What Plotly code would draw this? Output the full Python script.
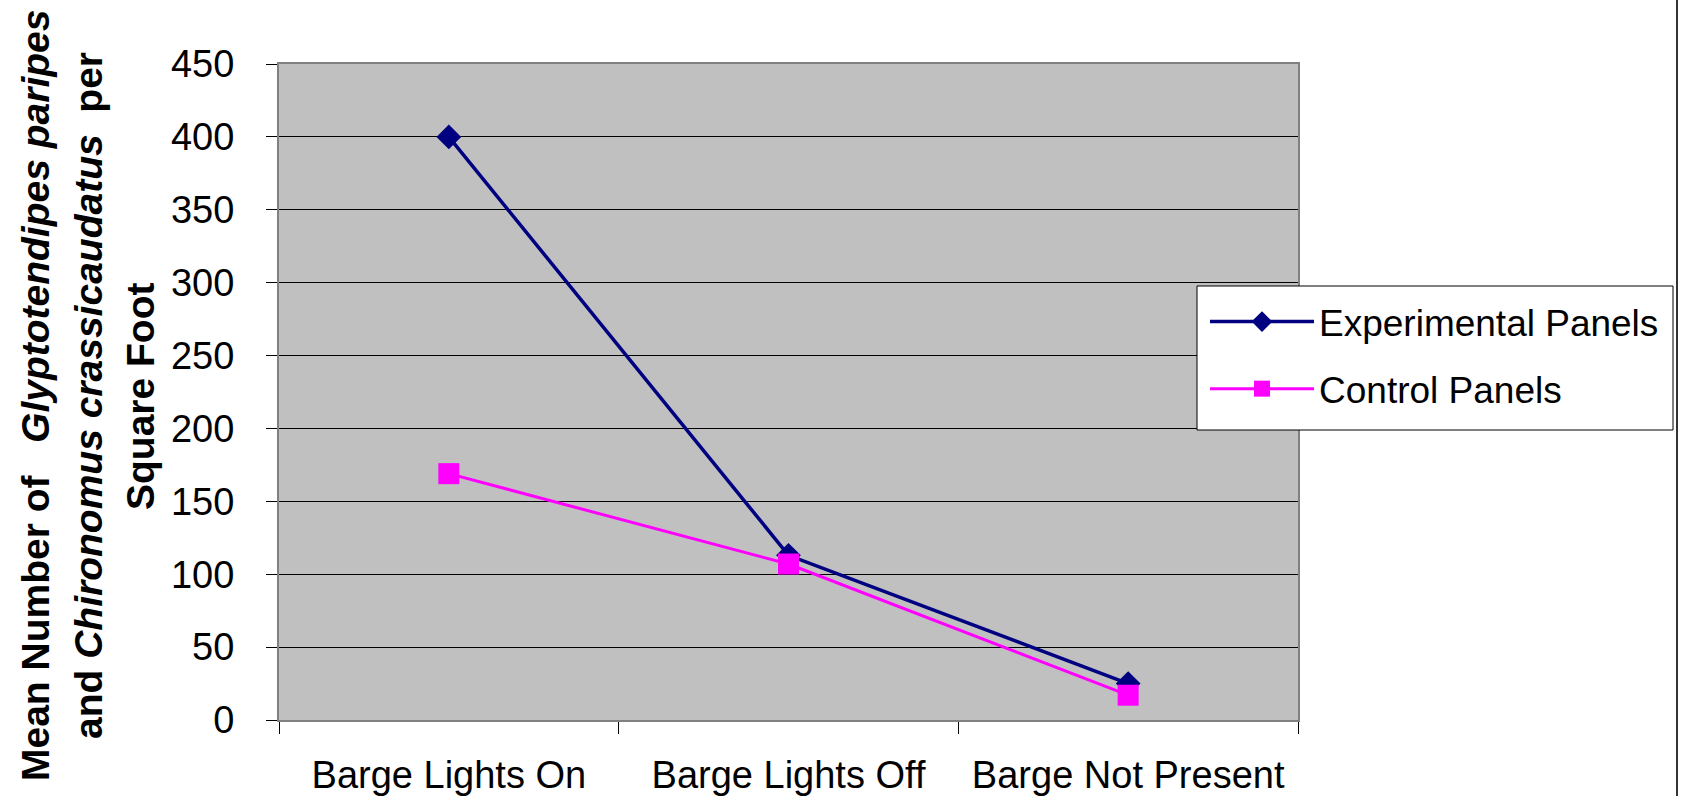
import plotly.graph_objects as go

categories = ["Barge Lights On", "Barge Lights Off", "Barge Not Present"]
experimental = [400, 113, 25]
control = [169, 107, 17]
y_ticks = [0, 50, 100, 150, 200, 250, 300, 350, 400, 450]

W, H = 1682, 796
L, R, T, B = 279, 1298, 64, 720
pw, ph = R - L, B - T

def px(x):
    return (x - L) / pw

def py(y):
    return (B - y) / ph

FONT = "Liberation Sans, Arial, sans-serif"

fig = go.Figure()
fig.add_trace(go.Scatter(
    x=categories, y=experimental, name="Experimental Panels",
    mode="lines+markers", legendgroup="a",
    line=dict(color="#000080", width=3.5),
    marker=dict(symbol="diamond", size=19, color="#000080"),
))
fig.add_trace(go.Scatter(
    x=categories, y=control, name="Control Panels",
    mode="lines+markers", legendgroup="b",
    line=dict(color="#FF00FF", width=3),
    marker=dict(symbol="square", size=21, color="#FF00FF"),
))

nb = "\u00a0"
title_lines = [
    f"<b>Mean Number of{nb*3}<i>Glyptotendipes paripes</i></b>",
    f"<b>and <i>Chironomus crassicaudatus</i>{nb*2}per</b>",
    "<b>Square Foot</b>",
]
title_x = [35, 88, 140]
for t, x in zip(title_lines, title_x):
    fig.add_annotation(
        text=t, xref="paper", yref="paper", x=px(x), y=py(396),
        xanchor="center", yanchor="middle", textangle=-90, showarrow=False,
        font=dict(family=FONT, size=39, color="black"),
    )

# outer chart border (right edge)
fig.add_shape(type="line", xref="paper", yref="paper",
              x0=px(1677), x1=px(1677), y0=py(0), y1=py(796),
              line=dict(color="#333333", width=2))
# legend box
fig.add_shape(type="rect", xref="paper", yref="paper",
              x0=px(1197), x1=px(1673), y0=py(286), y1=py(430),
              line=dict(color="black", width=1), fillcolor="white", layer="above")

fig.update_layout(
    width=W, height=H,
    margin=dict(l=L, r=W - R, t=T, b=H - B, pad=0, autoexpand=False),
    paper_bgcolor="white", plot_bgcolor="#C0C0C0",
    font=dict(family=FONT, size=38, color="black"),
    showlegend=True,
    legend=dict(
        x=px(1205), y=py(291), xanchor="left", yanchor="top",
        bgcolor="rgba(0,0,0,0)", borderwidth=0,
        font=dict(family=FONT, size=37, color="black"),
        tracegroupgap=16, itemwidth=104,
    ),
    xaxis=dict(
        type="category", range=[-0.5, 2.5], automargin=False,
        tickson="boundaries", ticks="outside", ticklen=12, tickcolor="black",
        tickwidth=1, showgrid=False, showline=True, linecolor="#808080",
        linewidth=2, mirror=True, ticklabelstandoff=20,
        tickfont=dict(family=FONT, size=38, color="black"),
    ),
    yaxis=dict(
        range=[0, 450], tickvals=y_ticks, ticks="outside", ticklen=11,
        automargin=False,
        tickcolor="black", tickwidth=1, showgrid=True, gridcolor="black",
        gridwidth=1, zeroline=False, showline=True, linecolor="#808080",
        linewidth=2, mirror=True, ticklabelstandoff=24,
        tickfont=dict(family=FONT, size=38, color="black"),
    ),
)

fig.write_html(
    "out.html",
    config={"displayModeBar": False},
    post_script="document.body.style.margin='0px';document.body.style.overflow='hidden';",
)
